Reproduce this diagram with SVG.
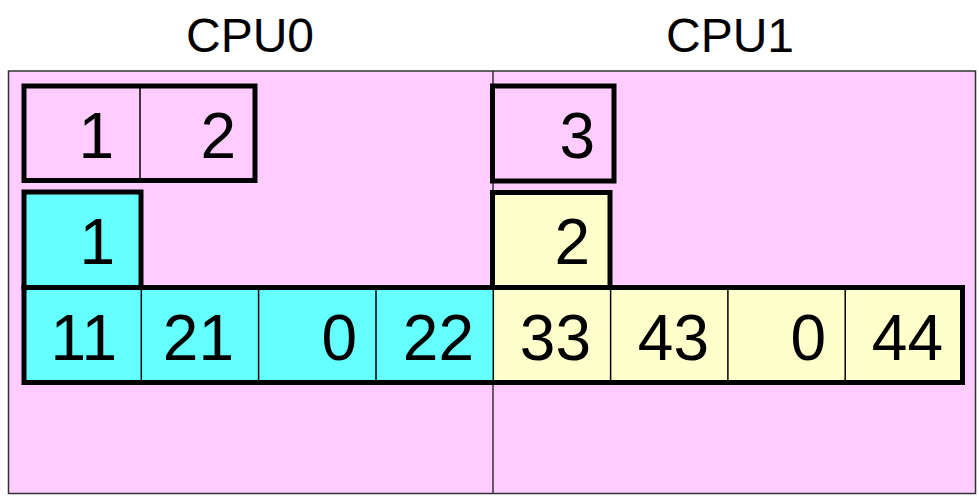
<svg xmlns="http://www.w3.org/2000/svg" width="979" height="501" viewBox="0 0 979 501">
<style>
  .t { font-family: "Liberation Sans", Arial, sans-serif; fill: #000; }
  .title { font-size: 48px; text-anchor: middle; }
  .num { font-size: 64px; text-anchor: end; }
  .box { stroke: #000; stroke-width: 5; }
  .div { stroke: #000; stroke-width: 1.5; fill: none; }
  .pink { fill: #FFCCFF; }
  .cyan { fill: #66FFFF; }
  .yel { fill: #FFFFCC; }
</style>
<rect width="979" height="501" fill="#FFFFFF"/>
<g id="titles">
  <text class="t title" x="250" y="52">CPU0</text>
  <text class="t title" x="730" y="52">CPU1</text>
</g>
<g id="frame">
  <rect x="8.5" y="71" width="967" height="422.5" fill="#FFCCFF" stroke="#333" stroke-width="1.5"/>
  <line x1="493" y1="71" x2="493" y2="493.5" stroke="#333" stroke-width="1.5"/>
</g>
<g id="cpu0-top">
  <rect class="box pink" x="24" y="86" width="231" height="94.5"/>
  <line class="div" x1="140" y1="86" x2="140" y2="180.5"/>
  <text class="t num" x="114" y="158">1</text>
  <text class="t num" x="236" y="158">2</text>
</g>
<g id="cpu1-top">
  <rect class="box pink" x="492.5" y="86" width="121.5" height="95"/>
  <text class="t num" x="595" y="158">3</text>
</g>
<g id="cpu0-mid">
  <rect class="box cyan" x="24" y="192" width="117" height="95.5"/>
  <text class="t num" x="115" y="264">1</text>
</g>
<g id="cpu1-mid">
  <rect class="box yel" x="492.5" y="192.5" width="117.5" height="95"/>
  <text class="t num" x="590" y="264">2</text>
</g>
<g id="row">
  <rect class="cyan" x="24" y="287.5" width="469.3" height="95"/>
  <rect class="yel" x="493.3" y="287.5" width="469.2" height="95"/>
  <rect class="box" fill="none" x="24" y="287.5" width="938.5" height="95"/>
  <line class="div" x1="141.3" y1="287.5" x2="141.3" y2="382.5"/>
  <line class="div" x1="258.6" y1="287.5" x2="258.6" y2="382.5"/>
  <line class="div" x1="376" y1="287.5" x2="376" y2="382.5"/>
  <line class="div" x1="493.3" y1="287.5" x2="493.3" y2="382.5"/>
  <line class="div" x1="610.6" y1="287.5" x2="610.6" y2="382.5"/>
  <line class="div" x1="727.9" y1="287.5" x2="727.9" y2="382.5"/>
  <line class="div" x1="845.2" y1="287.5" x2="845.2" y2="382.5"/>
  <text class="t num" x="117" y="360">11</text>
  <text class="t num" x="234" y="360">21</text>
  <text class="t num" x="357" y="360">0</text>
  <text class="t num" x="474" y="360">22</text>
  <text class="t num" x="591" y="360">33</text>
  <text class="t num" x="709" y="360">43</text>
  <text class="t num" x="826" y="360">0</text>
  <text class="t num" x="943" y="360">44</text>
</g>
</svg>
